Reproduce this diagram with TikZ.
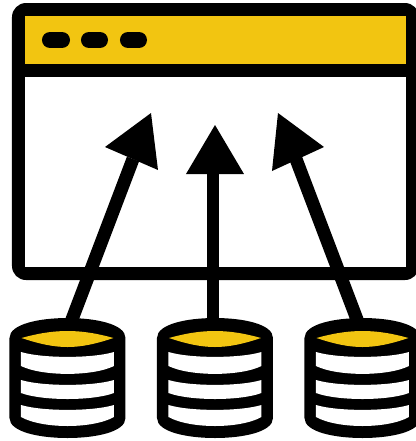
\documentclass[tikz,border=0pt]{standalone}
\usepackage{xcolor}
\usetikzlibrary{arrows.meta}
\definecolor{paneyellow}{HTML}{F2C511}
\tikzset{
  feed/.style={line width=.13cm},
  winbtn/.style={line width=.16cm,line cap=round},
}
\begin{document}
\begin{tikzpicture}[x=.01cm,y=-.01cm]
\useasboundingbox (0,0) rectangle (416,441);
\clip (0,0) rectangle (416,441);
% window
\fill[rounded corners=.14cm](12,3) rectangle (419,280);
\fill[paneyellow](25,16) rectangle (406,63.5);
\fill[white](25,77) rectangle (406,267);
\draw[winbtn](50,40)--(62,40);
\draw[winbtn](89,40)--(100,40);
\draw[winbtn](128,40)--(139,40);
% databases
\foreach \cx in {67.5,215,362.5}{
  \begin{scope}[shift={(\cx,0)}]
    \fill(-58,338) .. controls (-58,324) and (-28,318) .. (0,318)
      .. controls (28,318) and (58,324) .. (58,338)
      -- (58,418) .. controls (58,432) and (28,438) .. (0,438)
      .. controls (-28,438) and (-58,432) .. (-58,418) -- cycle;
    \fill[paneyellow](-46,338) .. controls (-28,333) and (-14,331) .. (0,331)
      .. controls (14,331) and (28,333) .. (46,338)
      .. controls (28,344) and (14,347) .. (0,347)
      .. controls (-14,347) and (-28,344) .. (-46,338) -- cycle;
    \fill[white](-46.5,352) .. controls (-25,358.5) and (25,358.5) .. (46.5,352)
      -- (46.5,366) .. controls (25,376.5) and (-25,376.5) .. (-46.5,366) -- cycle;
    \fill[white](-46.5,380) .. controls (-25,386.5) and (25,386.5) .. (46.5,380)
      -- (46.5,393) .. controls (25,401) and (-25,401) .. (-46.5,393) -- cycle;
    \fill[white](-46.5,405) .. controls (-25,411.5) and (25,411.5) .. (46.5,405)
      -- (46.5,417) .. controls (25,429) and (-25,429) .. (-46.5,417) -- cycle;
  \end{scope}
}
% arrows
\coordinate (dba) at (71,322);
\coordinate (dbb) at (213,322);
\coordinate (dbc) at (358,322);
\coordinate (basea) at (133,159);
\coordinate (baseb) at (213,174);
\coordinate (basec) at (296,159);
\draw[feed](dba)--(basea);
\draw[feed,line width=.12cm](dbb)--(baseb);
\draw[feed](dbc)--(basec);
\fill(151,113)--(105,147)--(158,170)--cycle;
\fill(215,125)--(186,174)--(244,174)--cycle;
\fill(278,113)--(324,147)--(272,171)--cycle;
\end{tikzpicture}
\end{document}
